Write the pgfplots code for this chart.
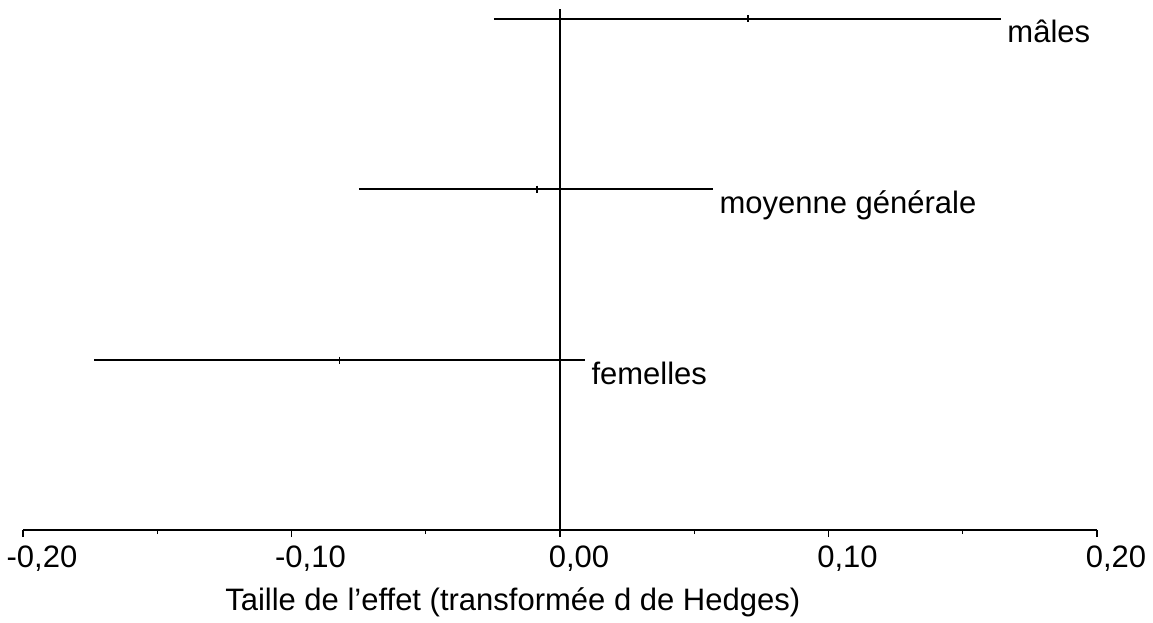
\documentclass[border=0pt]{standalone}
\usepackage{fontspec}
\setmainfont{Liberation Sans}
\usepackage{pgfplots}
\pgfplotsset{compat=1.18}
\begin{document}
\begin{tikzpicture}
\useasboundingbox (0,0) rectangle (1153pt,622pt);
\begin{axis}[
  at={(23pt,92pt)}, anchor=south west,
  scale only axis, width=1074pt, height=530pt,
  xmin=-0.2, xmax=0.2, ymin=0, ymax=530,
  axis x line=bottom, axis y line=none,
  x axis line style={-, line width=1.3pt},
  xtick={-0.2,-0.1,0,0.1,0.2},
  xticklabels={{-0,20},{-0,10},{0,00},{0,10},{0,20}},
  minor xtick={-0.15,-0.05,0.05,0.15},
  ytick=\empty,
  tick align=outside,
  major tick length=7pt, minor tick length=4pt,
  every tick/.style={black, line width=1.3pt},
  xticklabel style={font=\fontsize{31}{37}\selectfont, anchor=base, yshift=-30pt, xshift=19pt},
  xlabel={Taille de l’effet (transformée d de Hedges)},
  xlabel style={font=\fontsize{31}{37}\selectfont, at={(axis description cs:0.456,0)}, anchor=base, yshift=-80pt},
  clip=false,
]
\addplot[black, line width=1.2pt] coordinates {(0,0) (0,521)};
\addplot[black, line width=1.2pt] coordinates {(-0.0246,511) (0.1642,511)}
  node[pos=1, anchor=base west, inner sep=0pt, xshift=6pt, yshift=-24pt, font=\fontsize{31}{37}\selectfont] {mâles};
\addplot[black, line width=1.2pt] coordinates {(-0.0749,341) (0.0570,341)}
  node[pos=1, anchor=base west, inner sep=0pt, xshift=6pt, yshift=-24pt, font=\fontsize{31}{37}\selectfont] {moyenne générale};
\addplot[black, line width=1.2pt] coordinates {(-0.1735,170) (0.0093,170)}
  node[pos=1, anchor=base west, inner sep=0pt, xshift=6pt, yshift=-24pt, font=\fontsize{31}{37}\selectfont] {femelles};
\addplot[black, line width=1.2pt, only marks, mark=|, mark size=3.5pt] coordinates {(0.0700,511) (-0.0086,341) (-0.0820,170)};
\end{axis}
\end{tikzpicture}
\end{document}
